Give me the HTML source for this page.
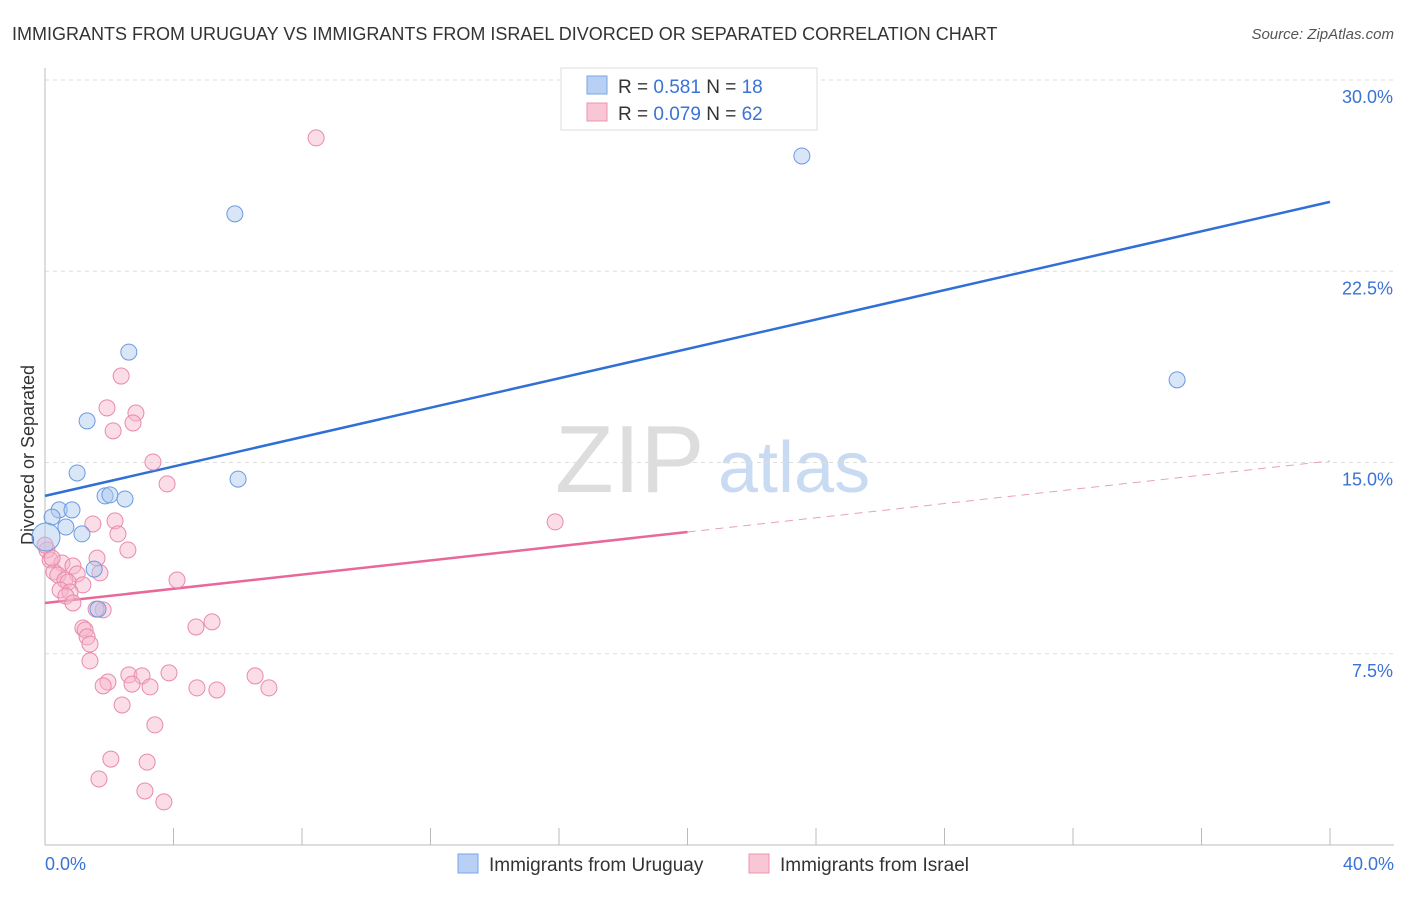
<!DOCTYPE html>
<html><head><meta charset="utf-8"><style>
body{margin:0;background:#fff;font-family:"Liberation Sans",sans-serif;}
svg text{font-family:"Liberation Sans",sans-serif;}
</style></head><body>
<svg id="chart" width="1406" height="892" xmlns="http://www.w3.org/2000/svg">
<text x="12" y="40" font-size="18" fill="#333">IMMIGRANTS FROM URUGUAY VS IMMIGRANTS FROM ISRAEL DIVORCED OR SEPARATED CORRELATION CHART</text>
<text x="1394" y="39" font-size="15" fill="#555" font-style="italic" text-anchor="end">Source: ZipAtlas.com</text>
<text x="34" y="455" font-size="18" fill="#333" text-anchor="middle" transform="rotate(-90 34 455)">Divorced or Separated</text>
<g><text x="555" y="492" font-size="96" fill="#ddd" font-family="Liberation Serif">ZIP</text><text x="718" y="492" font-size="72" fill="#c9daf3">atlas</text></g>
<g id="grid"></g><g id="axes"></g><g id="lines"></g><g id="pts"></g>
<g>
<rect x="561" y="68" width="256" height="62" fill="#fff" stroke="#ddd"/>
<rect x="587" y="76" width="20" height="18" fill="#b7d0f3" stroke="#7aa6e6"/>
<text x="618" y="93" font-size="19" fill="#333">R = <tspan fill="#3a73d4">0.581</tspan>   N = <tspan fill="#3a73d4">18</tspan></text>
<rect x="587" y="103" width="20" height="18" fill="#f9c6d6" stroke="#ec94b0"/>
<text x="618" y="120" font-size="19" fill="#333">R = <tspan fill="#3a73d4">0.079</tspan>   N = <tspan fill="#3a73d4">62</tspan></text>
</g>
<g>
<rect x="458" y="854" width="20" height="19" fill="#b7d0f3" stroke="#7aa6e6"/>
<text x="489" y="871" font-size="19" fill="#333">Immigrants from Uruguay</text>
<rect x="749" y="854" width="20" height="19" fill="#f9c6d6" stroke="#ec94b0"/>
<text x="780" y="871" font-size="19" fill="#333">Immigrants from Israel</text>
</g>
</svg>
<script>
const blueX=[5.91,23.56,2.61,35.24,1.31,1.00,6.01,1.87,2.02,2.49,0.44,0.84,0.22,0.65,1.15,0.03,1.53,1.65];
const blueY=[24.75,27.02,19.33,18.24,16.63,14.59,14.35,13.69,13.73,13.57,13.14,13.14,12.86,12.47,12.20,12.08,10.82,9.25];
const pinkX=[8.44,2.37,1.93,2.83,2.74,2.12,3.36,3.80,15.88,1.49,2.18,2.27,2.58,1.62,0.06,0.16,0.53,0.87,0.28,0.40,1.71,1.00,0.62,0.72,1.18,4.11,0.47,0.78,0.65,0.87,1.81,1.59,5.20,4.70,1.18,1.25,1.31,1.40,1.40,6.54,2.61,3.02,3.86,1.96,1.81,2.71,3.27,4.73,5.35,6.97,2.40,3.42,2.05,3.18,1.68,3.11,3.70,0.22,0.0];
const pinkY=[27.73,18.39,17.14,16.94,16.55,16.24,15.02,14.16,12.67,12.59,12.71,12.20,11.57,11.25,11.57,11.18,11.06,10.94,10.71,10.59,10.67,10.63,10.39,10.31,10.20,10.39,10.00,9.92,9.76,9.49,9.22,9.25,8.75,8.55,8.51,8.43,8.16,7.88,7.22,6.63,6.67,6.63,6.75,6.39,6.24,6.31,6.20,6.16,6.08,6.16,5.49,4.71,3.37,3.25,2.59,2.12,1.69,11.25,11.76];
const blueLine=[13.69,25.22];
const pinkLine=[9.49,15.06];
const yTicks=[7.5,15,22.5,30];
const yTickLabels=["7.5%","15.0%","22.5%","30.0%"];
const xTicks=[0,4,8,12,16,20,24,28,32,36,40];
const NS="http://www.w3.org/2000/svg";
const sx=v=>45+v*1285/40, sy=v=>845-v*765/30;
function mk(tag,attrs,parent){const e=document.createElementNS(NS,tag);for(const k in attrs)e.setAttribute(k,attrs[k]);document.getElementById(parent).appendChild(e);return e;}
yTicks.forEach((t,i)=>{
 let l=mk('line',{x1:45,x2:1394,y1:sy(t),y2:sy(t),stroke:'#ddd','stroke-dasharray':'4,4'},'grid');
 
 
 let tx=mk('text',{x:1393,y:sy(t)+23,'font-size':18,fill:'#3a73d4','text-anchor':'end'},'axes');
 tx.textContent=yTickLabels[i];
 
 
});
let ax=mk('line',{x1:45,x2:1394,y1:845,y2:845,stroke:'#bbb'},'axes');


let ay=mk('line',{x1:45,x2:45,y1:68,y2:845,stroke:'#bbb'},'axes');


xTicks.forEach(t=>{let l=mk('line',{x1:sx(t),x2:sx(t),y1:828,y2:845,stroke:'#bbb'},'axes');
 
 });
let x0=mk('text',{x:45,y:870,'font-size':18,fill:'#3a73d4'},'axes');x0.textContent='0.0%';


let x1=mk('text',{x:1394,y:870,'font-size':18,fill:'#3a73d4','text-anchor':'end'},'axes');x1.textContent='40.0%';


let bl=mk('line',{x1:sx(0),y1:sy(blueLine[0]),x2:sx(40),y2:sy(blueLine[1]),stroke:'#2f6fd6','stroke-width':2.5},'lines');


const pm=pinkLine[0]+(pinkLine[1]-pinkLine[0])/2;
let pl=mk('line',{x1:sx(0),y1:sy(pinkLine[0]),x2:sx(20),y2:sy(pm),stroke:'#e8689a','stroke-width':2.5},'lines');


let pd=mk('line',{x1:sx(20),y1:sy(pm),x2:sx(40),y2:sy(pinkLine[1]),stroke:'#e8a0bb','stroke-width':1,'stroke-dasharray':'8,6'},'lines');


pinkX.forEach((x,i)=>{let c=mk('circle',{cx:sx(x),cy:sy(pinkY[i]),r:8,fill:'rgba(246,180,202,0.45)',stroke:'#e98aab','stroke-width':1},'pts');
 
 });
blueX.forEach((x,i)=>{let c=mk('circle',{cx:sx(x),cy:sy(blueY[i]),r:i==15?14:8,fill:'rgba(170,200,240,0.45)',stroke:'#6b9ae0','stroke-width':1},'pts');
 
 });
</script>
</body></html>
